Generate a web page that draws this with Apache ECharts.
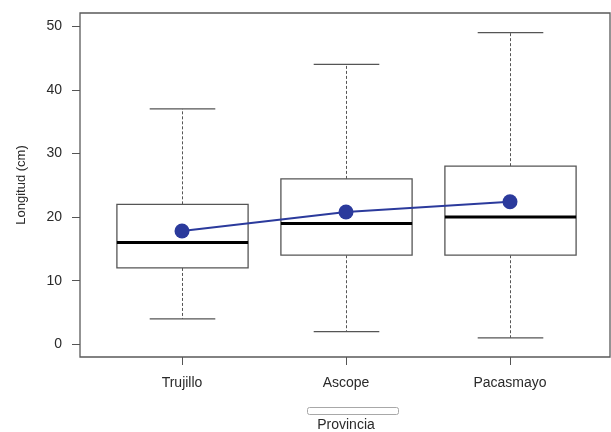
<!DOCTYPE html>
<html>
<head>
<meta charset="utf-8">
<script src="https://cdn.jsdelivr.net/npm/echarts@6/dist/echarts.min.js"></script>
<style>
  html, body { margin: 0; padding: 0; background: #ffffff; }
  #chart { width: 611px; height: 432px; }
</style>
</head>
<body>
<div id="chart"></div>
<script>
// Longitud por provincia: resumen de cajas y medias
const provincias = ['Trujillo', 'Ascope', 'Pacasmayo'];
const bigoteInferior = [4, 2, 1];
const cuartil1 = [12, 14, 14];
const mediana = [16, 19, 20];
const cuartil3 = [22, 26, 28];
const bigoteSuperior = [37, 44, 49];
const medias = [17.8, 20.8, 22.4];
const ticksY = [0, 10, 20, 30, 40, 50];

const FONT = '"Liberation Sans", Arial, sans-serif';
const TEXT = '#2a2a2a';
const GRAY = '#555555';

const cajas = provincias.map((p, i) => [i, bigoteInferior[i], cuartil1[i], mediana[i], cuartil3[i], bigoteSuperior[i]]);

function dibujarCaja(params, api) {
  const i = api.value(0);
  const pLo = api.coord([i, api.value(1)]);
  const pQ1 = api.coord([i, api.value(2)]);
  const pMed = api.coord([i, api.value(3)]);
  const pQ3 = api.coord([i, api.value(4)]);
  const pHi = api.coord([i, api.value(5)]);
  const band = api.size([1, 0])[0];
  const x = Math.round(pMed[0]) + 0.5;
  const hw = band * 0.4;
  const cw = band * 0.2;
  const dash = { stroke: GRAY, lineWidth: 1, lineDash: [3, 2] };
  const solid = { stroke: GRAY, lineWidth: 1.3 };
  return {
    type: 'group',
    children: [
      { type: 'line', shape: { x1: x, y1: pQ3[1], x2: x, y2: pHi[1] }, style: dash },
      { type: 'line', shape: { x1: x, y1: pQ1[1], x2: x, y2: pLo[1] }, style: dash },
      { type: 'line', shape: { x1: x - cw, y1: pHi[1], x2: x + cw, y2: pHi[1] }, style: solid },
      { type: 'line', shape: { x1: x - cw, y1: pLo[1], x2: x + cw, y2: pLo[1] }, style: solid },
      { type: 'rect', shape: { x: x - hw, y: pQ3[1], width: 2 * hw, height: pQ1[1] - pQ3[1] },
        style: { fill: '#ffffff', stroke: GRAY, lineWidth: 1.3 } },
      { type: 'line', shape: { x1: x - hw, y1: pMed[1], x2: x + hw, y2: pMed[1] },
        style: { stroke: '#000000', lineWidth: 3 } }
    ]
  };
}

const chart = echarts.init(document.getElementById('chart'), null, { renderer: 'canvas' });
chart.setOption({
  animation: false,
  backgroundColor: '#ffffff',
  textStyle: { fontFamily: FONT },
  grid: [
    { left: 100, right: 19, top: 13, bottom: 75, outerBoundsMode: 'none', containLabel: false },
    { left: 80, right: 1, top: 13, bottom: 75, outerBoundsMode: 'none', containLabel: false,
      show: true, borderColor: '#5a5a5a', borderWidth: 1.3, backgroundColor: 'transparent' }
  ],
  xAxis: [
    {
      type: 'category', gridIndex: 0, data: provincias, boundaryGap: true,
      axisLine: { show: false, onZero: false },
      axisTick: { show: true, alignWithLabel: true, length: 8, lineStyle: { color: GRAY, width: 1 } },
      axisLabel: { margin: 19, fontSize: 14, color: TEXT, fontFamily: FONT },
      splitLine: { show: false },
      name: 'Provincia', nameLocation: 'middle', nameGap: 61,
      nameTextStyle: { fontSize: 14, color: TEXT, fontFamily: FONT }
    },
    { type: 'value', gridIndex: 1, min: 0, max: 1, show: false }
  ],
  yAxis: [
    { type: 'value', gridIndex: 0, min: -2, max: 52.08, show: false },
    {
      type: 'value', gridIndex: 1, min: -2, max: 52.08,
      axisLine: { show: false },
      axisTick: { show: true, length: 8, customValues: ticksY, lineStyle: { color: GRAY, width: 1 } },
      axisLabel: { margin: 18, fontSize: 14, color: TEXT, fontFamily: FONT, customValues: ticksY },
      splitLine: { show: false },
      name: 'Longitud (cm)', nameLocation: 'middle', nameGap: 52, nameRotate: 90,
      nameTextStyle: { fontSize: 13, color: TEXT, fontFamily: FONT }
    }
  ],
  series: [
    {
      type: 'custom', xAxisIndex: 0, yAxisIndex: 0,
      renderItem: dibujarCaja,
      encode: { x: 0, y: [1, 2, 3, 4, 5] },
      data: cajas, z: 2
    },
    {
      type: 'line', xAxisIndex: 0, yAxisIndex: 0,
      data: medias,
      symbol: 'circle', symbolSize: 15,
      lineStyle: { color: '#2b3a9c', width: 2 },
      itemStyle: { color: '#2b3a9c' },
      z: 5
    }
  ],
  graphic: [
    {
      type: 'rect', left: 307, top: 407,
      shape: { width: 91, height: 7, r: 2 },
      style: { fill: '#ffffff', stroke: '#a8a8a8', lineWidth: 1 }
    }
  ]
});
</script>
</body>
</html>
